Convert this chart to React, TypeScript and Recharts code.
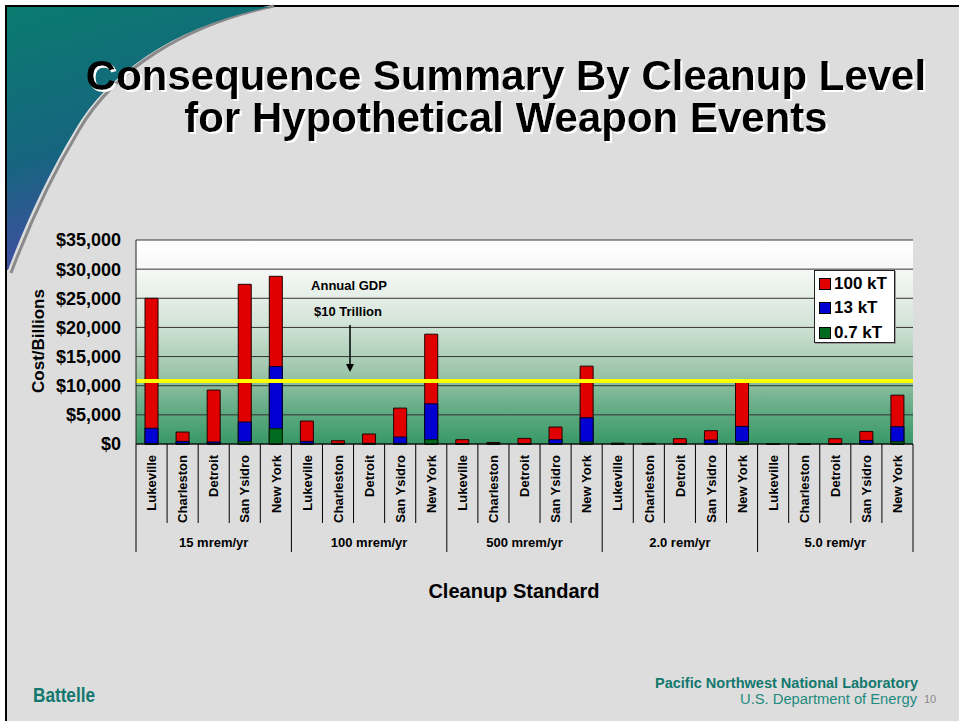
import React from 'react';
import { BarChart, Bar, XAxis, YAxis, CartesianGrid, ReferenceLine, Legend } from 'recharts';

const GROUPS = ['15 mrem/yr', '100 mrem/yr', '500 mrem/yr', '2.0 rem/yr', '5.0 rem/yr'];
const CITIES = ['Lukeville', 'Charleston', 'Detroit', 'San Ysidro', 'New York'];
// Cost in $ billions, order: group by group, city by city
const KT100 = [25000, 2050, 9250, 27400, 28770, 3940, 560, 1710, 6160, 18840, 740, 250, 960, 2910, 13360, 150, 120, 910, 2280, 10950, 80, 80, 910, 2160, 8380];
const KT13 = [2700, 450, 350, 3770, 13290, 450, 100, 120, 1200, 6900, 80, 40, 100, 740, 4500, 20, 15, 60, 680, 3020, 10, 10, 60, 620, 2960];
const KT07 = [40, 20, 20, 400, 2620, 20, 10, 10, 100, 740, 10, 5, 10, 60, 340, 2, 2, 5, 50, 400, 1, 1, 5, 50, 400];
const Y_TICKS = [0, 5000, 10000, 15000, 20000, 25000, 30000, 35000];
const GDP_LINE = 10800;
const SERIES = [
  { key: 'kt100', name: '100 kT', color: '#e00000' },
  { key: 'kt13', name: '13 kT', color: '#0000d2' },
  { key: 'kt07', name: '0.7 kT', color: '#006a1e' },
];

const data = GROUPS.flatMap((g, gi) =>
  CITIES.map((c, ci) => ({
    id: `${g}|${c}`,
    group: g,
    city: c,
    kt100: KT100[gi * 5 + ci],
    kt13: KT13[gi * 5 + ci],
    kt07: KT07[gi * 5 + ci],
  }))
);

const FONT = '"Liberation Sans", Arial, sans-serif';

const CityTick = (props: any) => {
  const { x, y, payload, index } = props;
  const i = typeof index === 'number' ? index : payload.index;
  const row = data[i];
  const half = payload && typeof payload.offset === 'number' && payload.offset > 0 ? payload.offset : 15.54;
  const y0 = y;
  const groupStart = i % 5 === 0;
  return (
    <g>
      <line x1={x - half} x2={x - half} y1={y0} y2={groupStart ? y0 + 108 : y0 + 79} stroke="#000" strokeWidth={1} />
      {i === data.length - 1 && (
        <line x1={x + half} x2={x + half} y1={y0} y2={y0 + 108} stroke="#000" strokeWidth={1} />
      )}
      <text
        transform={`translate(${x},${y0 + 11}) rotate(-90)`}
        textAnchor="end"
        dy="0.36em"
        fontFamily={FONT}
        fontWeight="bold"
        fontSize={13}
        fill="#000"
      >
        {row ? row.city : ''}
      </text>
      {i % 5 === 2 && row && (
        <text x={x} y={y0 + 103} textAnchor="middle" fontFamily={FONT} fontWeight="bold" fontSize={13} fill="#000">
          {row.group}
        </text>
      )}
    </g>
  );
};

const LegendBox = () => (
  <div
    style={{
      background: '#fff',
      border: '1px solid #222',
      width: 81,
      height: 73,
      boxSizing: 'border-box',
      padding: '1px 0 0 4px',
      fontFamily: FONT,
      fontWeight: 'bold',
      fontSize: 17,
      color: '#000',
      whiteSpace: 'nowrap',
      boxShadow: '1px 1px 0 #999',
    }}
  >
    {SERIES.map((s) => (
      <div key={s.key} style={{ display: 'flex', alignItems: 'center', height: 24.3 }}>
        <span
          style={{
            display: 'inline-block',
            width: 10,
            height: 10,
            flex: '0 0 auto',
            background: s.color,
            border: '1px solid #000',
            marginRight: 3,
          }}
        />
        <span style={{ lineHeight: '20px' }}>{s.name}</span>
      </div>
    ))}
  </div>
);

export default function App() {
  return (
    <div style={{ position: 'absolute', left: 0, top: 0, width: 959, height: 721, background: '#fff', overflow: 'hidden' }}>
      <svg width={959} height={721} style={{ position: 'absolute', left: 0, top: 0 }}>
        <defs>
          <linearGradient id="swoosh" x1="0" y1="0" x2="0.3" y2="1">
            <stop offset="0%" stopColor="#0a7b6f" />
            <stop offset="55%" stopColor="#16657f" />
            <stop offset="100%" stopColor="#4a4aa8" />
          </linearGradient>
          <filter id="whiteShadow" x="-5%" y="-20%" width="110%" height="140%">
            <feFlood floodColor="#ffffff" result="flood" />
            <feComposite in="flood" in2="SourceAlpha" operator="in" result="shadow" />
            <feOffset in="shadow" dx="2" dy="2" result="offsetShadow" />
            <feMerge>
              <feMergeNode in="offsetShadow" />
              <feMergeNode in="SourceGraphic" />
            </feMerge>
          </filter>
        </defs>
        <rect x={6} y={6} width={960} height={720} fill="#dddddd" stroke="#000" strokeWidth={2} />
        <path d="M 274 6 C 184 25, 114 70, 79 130 C 49 180, 29 225, 11 273" fill="none" stroke="#8a8a8a" strokeWidth={3} />
        <path d="M 7 7 L 270 7 C 180 25, 110 70, 75 130 C 45 180, 25 225, 8 270 L 7 270 Z" fill="url(#swoosh)" />
        <g fontFamily={FONT} fontWeight="bold" fontSize={42} textAnchor="middle" filter="url(#whiteShadow)">
          <text x={506} y={90} fill="#000">Consequence Summary By Cleanup Level</text>
          <text x={506} y={132} fill="#000">for Hypothetical Weapon Events</text>
        </g>
        <text x={33} y={702} fontFamily={FONT} fontWeight="bold" fontSize={21} fill="#13786e" textLength={62} lengthAdjust="spacingAndGlyphs">
          Battelle
        </text>
        <text x={918} y={688} textAnchor="end" fontFamily={FONT} fontWeight="bold" fontSize={14} fill="#13786e" textLength={263} lengthAdjust="spacingAndGlyphs">
          Pacific Northwest National Laboratory
        </text>
        <text x={917} y={704} textAnchor="end" fontFamily={FONT} fontSize={14} fill="#1f8a7e" textLength={177} lengthAdjust="spacingAndGlyphs">
          U.S. Department of Energy
        </text>
        <text x={924} y={703} fontFamily={FONT} fontSize={11} fill="#8a8a8a">10</text>
      </svg>

      <div style={{ position: 'absolute', left: 0, top: 0 }}>
        <BarChart
          width={959}
          height={721}
          data={data}
          margin={{ top: 240, right: 46, left: 10, bottom: 167 }}
          barSize={13}
        >
          <defs>
            <linearGradient id="plotBg" x1="0" y1="0" x2="0" y2="1">
              <stop offset="0%" stopColor="#ffffff" />
              <stop offset="15%" stopColor="#f6f8f6" />
              <stop offset="40%" stopColor="#d4e5d9" />
              <stop offset="65%" stopColor="#9cc5aa" />
              <stop offset="85%" stopColor="#5ea981" />
              <stop offset="100%" stopColor="#379966" />
            </linearGradient>
          </defs>
          <CartesianGrid vertical={false} stroke="#333" fill="url(#plotBg)" fillOpacity={1} />
          <XAxis
            dataKey="id"
            interval={0}
            height={110}
            tickSize={0}
            tickMargin={0}
            axisLine={{ stroke: '#000' }}
            tickLine={false}
            tick={<CityTick />}
          />
          <XAxis xAxisId="b" dataKey="id" hide />
          <XAxis xAxisId="g" dataKey="id" hide />
          <YAxis
            width={126}
            domain={[0, 35000]}
            ticks={Y_TICKS}
            interval={0}
            tickSize={0}
            tickMargin={15}
            axisLine={{ stroke: '#222' }}
            tickLine={false}
            tickFormatter={(v: number) => `$${v.toLocaleString('en-US')}`}
            tick={{ fontFamily: FONT, fontWeight: 'bold', fontSize: 18, fill: '#000' }}
          />
          <YAxis yAxisId="r" orientation="right" width={0} domain={[0, 35000]} tick={false} tickLine={false} axisLine={{ stroke: '#888' }} />
          <Legend
            layout="vertical"
            align="center"
            verticalAlign="middle"
            content={<LegendBox />}
            wrapperStyle={{ left: 814, top: 270, width: 81, height: 73 }}
          />
          <Bar dataKey="kt100" name="100 kT" fill="#e00000" stroke="#200" strokeWidth={1} isAnimationActive={false} />
          <Bar xAxisId="b" dataKey="kt13" name="13 kT" fill="#0000d2" stroke="#002" strokeWidth={1} isAnimationActive={false} />
          <Bar xAxisId="g" dataKey="kt07" name="0.7 kT" fill="#006a1e" stroke="#020" strokeWidth={1} isAnimationActive={false} />
          <ReferenceLine y={GDP_LINE} stroke="#ffff00" strokeWidth={4} />
        </BarChart>
      </div>

      <svg width={959} height={721} style={{ position: 'absolute', left: 0, top: 0, pointerEvents: 'none' }}>
        <g fontFamily={FONT} fontWeight="bold" fill="#000">
          <text x={349} y={290} textAnchor="middle" fontSize={13}>Annual GDP</text>
          <text x={348} y={316} textAnchor="middle" fontSize={13}>$10 Trillion</text>
          <text transform="translate(38,341) rotate(-90)" textAnchor="middle" dy="0.36em" fontSize={17}>Cost/Billions</text>
          <text x={514} y={598} textAnchor="middle" fontSize={20}>Cleanup Standard</text>
        </g>
        <line x1={350} y1={325} x2={350} y2={365} stroke="#000" strokeWidth={1.5} />
        <polygon points="346,364 354,364 350,372" fill="#000" />
      </svg>
    </div>
  );
}
